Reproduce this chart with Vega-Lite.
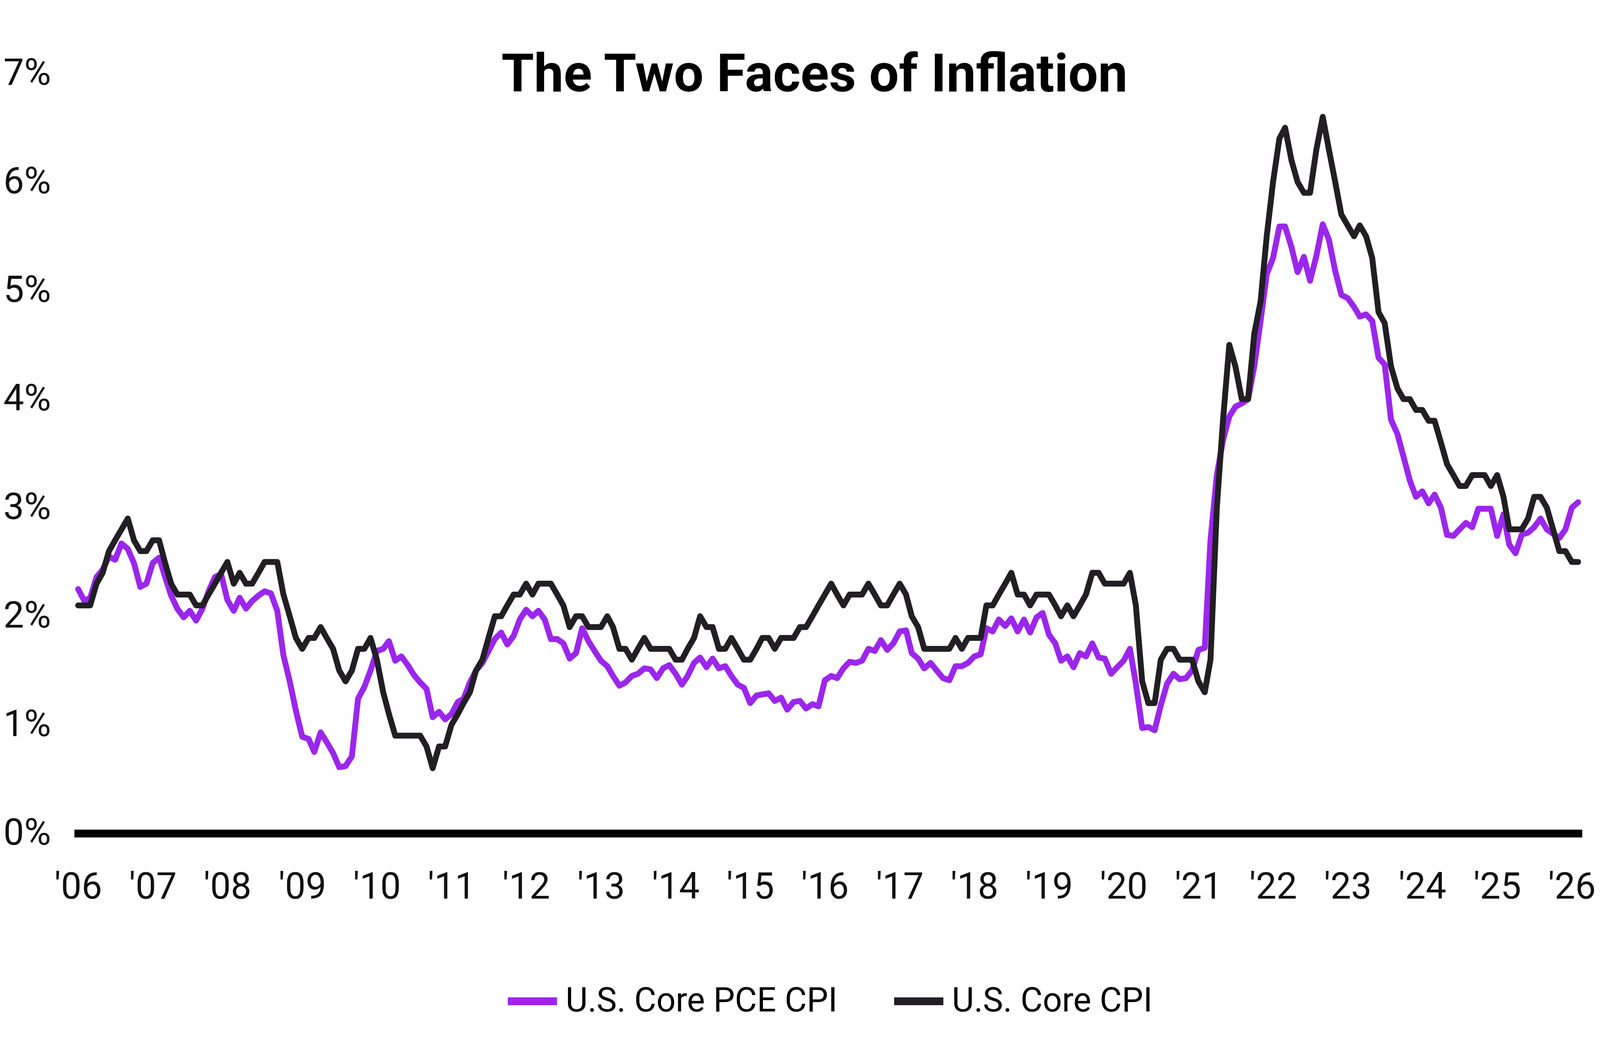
{
"$schema": "https://vega.github.io/schema/vega-lite/v6.json",
"width": 3840, "height": 1946,
"autosize": {"type": "none"},
"padding": {"left": 200, "top": 188, "right": 136, "bottom": 514},
"background": "white",
"config": {"view": {"stroke": null}, "font": "Roboto", "legend": {"layout": {"bottom": {"anchor": "middle"}}}},
"title": {"text": "The Two Faces of Inflation", "font": "Roboto", "fontSize": 135, "fontWeight": "bold", "color": "#000000", "anchor": "middle", "frame": "group", "orient": "top", "baseline": "alphabetic", "offset": -228, "dx": -35},
"data": {"values": [
{"date":"2006-01","pce":2.25,"cpi":2.1},{"date":"2006-02","pce":2.14,"cpi":2.1},{"date":"2006-03","pce":2.17,"cpi":2.1},{"date":"2006-04","pce":2.36,"cpi":2.3},{"date":"2006-05","pce":2.43,"cpi":2.4},{"date":"2006-06","pce":2.55,"cpi":2.6},{"date":"2006-07","pce":2.52,"cpi":2.7},{"date":"2006-08","pce":2.67,"cpi":2.8},{"date":"2006-09","pce":2.62,"cpi":2.9},{"date":"2006-10","pce":2.49,"cpi":2.7},{"date":"2006-11","pce":2.27,"cpi":2.6},{"date":"2006-12","pce":2.30,"cpi":2.6},
{"date":"2007-01","pce":2.49,"cpi":2.7},{"date":"2007-02","pce":2.54,"cpi":2.7},{"date":"2007-03","pce":2.37,"cpi":2.5},{"date":"2007-04","pce":2.19,"cpi":2.3},{"date":"2007-05","pce":2.07,"cpi":2.2},{"date":"2007-06","pce":1.99,"cpi":2.2},{"date":"2007-07","pce":2.05,"cpi":2.2},{"date":"2007-08","pce":1.96,"cpi":2.1},{"date":"2007-09","pce":2.07,"cpi":2.1},{"date":"2007-10","pce":2.23,"cpi":2.2},{"date":"2007-11","pce":2.36,"cpi":2.3},{"date":"2007-12","pce":2.39,"cpi":2.4},
{"date":"2008-01","pce":2.15,"cpi":2.5},{"date":"2008-02","pce":2.05,"cpi":2.3},{"date":"2008-03","pce":2.17,"cpi":2.4},{"date":"2008-04","pce":2.07,"cpi":2.3},{"date":"2008-05","pce":2.14,"cpi":2.3},{"date":"2008-06","pce":2.19,"cpi":2.4},{"date":"2008-07","pce":2.23,"cpi":2.5},{"date":"2008-08","pce":2.21,"cpi":2.5},{"date":"2008-09","pce":2.05,"cpi":2.5},{"date":"2008-10","pce":1.64,"cpi":2.2},{"date":"2008-11","pce":1.40,"cpi":2.0},{"date":"2008-12","pce":1.13,"cpi":1.8},
{"date":"2009-01","pce":0.89,"cpi":1.7},{"date":"2009-02","pce":0.87,"cpi":1.8},{"date":"2009-03","pce":0.75,"cpi":1.8},{"date":"2009-04","pce":0.93,"cpi":1.9},{"date":"2009-05","pce":0.84,"cpi":1.8},{"date":"2009-06","pce":0.74,"cpi":1.7},{"date":"2009-07","pce":0.61,"cpi":1.5},{"date":"2009-08","pce":0.62,"cpi":1.4},{"date":"2009-09","pce":0.71,"cpi":1.5},{"date":"2009-10","pce":1.24,"cpi":1.7},{"date":"2009-11","pce":1.35,"cpi":1.7},{"date":"2009-12","pce":1.50,"cpi":1.8},
{"date":"2010-01","pce":1.68,"cpi":1.6},{"date":"2010-02","pce":1.70,"cpi":1.3},{"date":"2010-03","pce":1.77,"cpi":1.1},{"date":"2010-04","pce":1.59,"cpi":0.9},{"date":"2010-05","pce":1.63,"cpi":0.9},{"date":"2010-06","pce":1.55,"cpi":0.9},{"date":"2010-07","pce":1.46,"cpi":0.9},{"date":"2010-08","pce":1.39,"cpi":0.9},{"date":"2010-09","pce":1.33,"cpi":0.8},{"date":"2010-10","pce":1.07,"cpi":0.6},{"date":"2010-11","pce":1.12,"cpi":0.8},{"date":"2010-12","pce":1.05,"cpi":0.8},
{"date":"2011-01","pce":1.10,"cpi":1.0},{"date":"2011-02","pce":1.21,"cpi":1.1},{"date":"2011-03","pce":1.24,"cpi":1.2},{"date":"2011-04","pce":1.39,"cpi":1.3},{"date":"2011-05","pce":1.50,"cpi":1.5},{"date":"2011-06","pce":1.57,"cpi":1.6},{"date":"2011-07","pce":1.68,"cpi":1.8},{"date":"2011-08","pce":1.79,"cpi":2.0},{"date":"2011-09","pce":1.85,"cpi":2.0},{"date":"2011-10","pce":1.74,"cpi":2.1},{"date":"2011-11","pce":1.82,"cpi":2.2},{"date":"2011-12","pce":1.97,"cpi":2.2},
{"date":"2012-01","pce":2.06,"cpi":2.3},{"date":"2012-02","pce":2.00,"cpi":2.2},{"date":"2012-03","pce":2.05,"cpi":2.3},{"date":"2012-04","pce":1.97,"cpi":2.3},{"date":"2012-05","pce":1.79,"cpi":2.3},{"date":"2012-06","pce":1.79,"cpi":2.2},{"date":"2012-07","pce":1.75,"cpi":2.1},{"date":"2012-08","pce":1.61,"cpi":1.9},{"date":"2012-09","pce":1.66,"cpi":2.0},{"date":"2012-10","pce":1.89,"cpi":2.0},{"date":"2012-11","pce":1.77,"cpi":1.9},{"date":"2012-12","pce":1.68,"cpi":1.9},
{"date":"2013-01","pce":1.59,"cpi":1.9},{"date":"2013-02","pce":1.54,"cpi":2.0},{"date":"2013-03","pce":1.45,"cpi":1.9},{"date":"2013-04","pce":1.36,"cpi":1.7},{"date":"2013-05","pce":1.39,"cpi":1.7},{"date":"2013-06","pce":1.45,"cpi":1.6},{"date":"2013-07","pce":1.47,"cpi":1.7},{"date":"2013-08","pce":1.52,"cpi":1.8},{"date":"2013-09","pce":1.51,"cpi":1.7},{"date":"2013-10","pce":1.43,"cpi":1.7},{"date":"2013-11","pce":1.52,"cpi":1.7},{"date":"2013-12","pce":1.55,"cpi":1.7},
{"date":"2014-01","pce":1.47,"cpi":1.6},{"date":"2014-02","pce":1.37,"cpi":1.6},{"date":"2014-03","pce":1.45,"cpi":1.7},{"date":"2014-04","pce":1.57,"cpi":1.8},{"date":"2014-05","pce":1.62,"cpi":2.0},{"date":"2014-06","pce":1.53,"cpi":1.9},{"date":"2014-07","pce":1.61,"cpi":1.9},{"date":"2014-08","pce":1.52,"cpi":1.7},{"date":"2014-09","pce":1.54,"cpi":1.7},{"date":"2014-10","pce":1.45,"cpi":1.8},{"date":"2014-11","pce":1.37,"cpi":1.7},{"date":"2014-12","pce":1.34,"cpi":1.6},
{"date":"2015-01","pce":1.20,"cpi":1.6},{"date":"2015-02","pce":1.27,"cpi":1.7},{"date":"2015-03","pce":1.28,"cpi":1.8},{"date":"2015-04","pce":1.29,"cpi":1.8},{"date":"2015-05","pce":1.22,"cpi":1.7},{"date":"2015-06","pce":1.25,"cpi":1.8},{"date":"2015-07","pce":1.14,"cpi":1.8},{"date":"2015-08","pce":1.21,"cpi":1.8},{"date":"2015-09","pce":1.22,"cpi":1.9},{"date":"2015-10","pce":1.15,"cpi":1.9},{"date":"2015-11","pce":1.19,"cpi":2.0},{"date":"2015-12","pce":1.17,"cpi":2.1},
{"date":"2016-01","pce":1.41,"cpi":2.2},{"date":"2016-02","pce":1.45,"cpi":2.3},{"date":"2016-03","pce":1.43,"cpi":2.2},{"date":"2016-04","pce":1.52,"cpi":2.1},{"date":"2016-05","pce":1.58,"cpi":2.2},{"date":"2016-06","pce":1.57,"cpi":2.2},{"date":"2016-07","pce":1.59,"cpi":2.2},{"date":"2016-08","pce":1.70,"cpi":2.3},{"date":"2016-09","pce":1.68,"cpi":2.2},{"date":"2016-10","pce":1.78,"cpi":2.1},{"date":"2016-11","pce":1.69,"cpi":2.1},{"date":"2016-12","pce":1.75,"cpi":2.2},
{"date":"2017-01","pce":1.86,"cpi":2.3},{"date":"2017-02","pce":1.87,"cpi":2.2},{"date":"2017-03","pce":1.66,"cpi":2.0},{"date":"2017-04","pce":1.61,"cpi":1.9},{"date":"2017-05","pce":1.52,"cpi":1.7},{"date":"2017-06","pce":1.57,"cpi":1.7},{"date":"2017-07","pce":1.50,"cpi":1.7},{"date":"2017-08","pce":1.43,"cpi":1.7},{"date":"2017-09","pce":1.41,"cpi":1.7},{"date":"2017-10","pce":1.54,"cpi":1.8},{"date":"2017-11","pce":1.54,"cpi":1.7},{"date":"2017-12","pce":1.57,"cpi":1.8},
{"date":"2018-01","pce":1.63,"cpi":1.8},{"date":"2018-02","pce":1.65,"cpi":1.8},{"date":"2018-03","pce":1.89,"cpi":2.1},{"date":"2018-04","pce":1.86,"cpi":2.1},{"date":"2018-05","pce":1.97,"cpi":2.2},{"date":"2018-06","pce":1.91,"cpi":2.3},{"date":"2018-07","pce":1.98,"cpi":2.4},{"date":"2018-08","pce":1.86,"cpi":2.2},{"date":"2018-09","pce":1.97,"cpi":2.2},{"date":"2018-10","pce":1.85,"cpi":2.1},{"date":"2018-11","pce":1.99,"cpi":2.2},{"date":"2018-12","pce":2.03,"cpi":2.2},
{"date":"2019-01","pce":1.83,"cpi":2.2},{"date":"2019-02","pce":1.75,"cpi":2.1},{"date":"2019-03","pce":1.59,"cpi":2.0},{"date":"2019-04","pce":1.63,"cpi":2.1},{"date":"2019-05","pce":1.53,"cpi":2.0},{"date":"2019-06","pce":1.66,"cpi":2.1},{"date":"2019-07","pce":1.63,"cpi":2.2},{"date":"2019-08","pce":1.75,"cpi":2.4},{"date":"2019-09","pce":1.62,"cpi":2.4},{"date":"2019-10","pce":1.61,"cpi":2.3},{"date":"2019-11","pce":1.47,"cpi":2.3},{"date":"2019-12","pce":1.53,"cpi":2.3},
{"date":"2020-01","pce":1.59,"cpi":2.3},{"date":"2020-02","pce":1.70,"cpi":2.4},{"date":"2020-03","pce":1.38,"cpi":2.1},{"date":"2020-04","pce":0.97,"cpi":1.4},{"date":"2020-05","pce":0.98,"cpi":1.2},{"date":"2020-06","pce":0.95,"cpi":1.2},{"date":"2020-07","pce":1.18,"cpi":1.6},{"date":"2020-08","pce":1.38,"cpi":1.7},{"date":"2020-09","pce":1.47,"cpi":1.7},{"date":"2020-10","pce":1.42,"cpi":1.6},{"date":"2020-11","pce":1.43,"cpi":1.6},{"date":"2020-12","pce":1.50,"cpi":1.6},
{"date":"2021-01","pce":1.69,"cpi":1.4},{"date":"2021-02","pce":1.71,"cpi":1.3},{"date":"2021-03","pce":2.70,"cpi":1.6},{"date":"2021-04","pce":3.30,"cpi":3.0},{"date":"2021-05","pce":3.62,"cpi":3.8},{"date":"2021-06","pce":3.84,"cpi":4.5},{"date":"2021-07","pce":3.93,"cpi":4.3},{"date":"2021-08","pce":3.96,"cpi":4.0},{"date":"2021-09","pce":4.00,"cpi":4.0},{"date":"2021-10","pce":4.30,"cpi":4.6},{"date":"2021-11","pce":4.72,"cpi":4.9},{"date":"2021-12","pce":5.15,"cpi":5.5},
{"date":"2022-01","pce":5.30,"cpi":6.0},{"date":"2022-02","pce":5.59,"cpi":6.4},{"date":"2022-03","pce":5.59,"cpi":6.5},{"date":"2022-04","pce":5.40,"cpi":6.2},{"date":"2022-05","pce":5.17,"cpi":6.0},{"date":"2022-06","pce":5.31,"cpi":5.9},{"date":"2022-07","pce":5.09,"cpi":5.9},{"date":"2022-08","pce":5.32,"cpi":6.3},{"date":"2022-09","pce":5.61,"cpi":6.6},{"date":"2022-10","pce":5.47,"cpi":6.3},{"date":"2022-11","pce":5.18,"cpi":6.0},{"date":"2022-12","pce":4.96,"cpi":5.7},
{"date":"2023-01","pce":4.93,"cpi":5.6},{"date":"2023-02","pce":4.85,"cpi":5.5},{"date":"2023-03","pce":4.76,"cpi":5.6},{"date":"2023-04","pce":4.78,"cpi":5.5},{"date":"2023-05","pce":4.72,"cpi":5.3},{"date":"2023-06","pce":4.38,"cpi":4.8},{"date":"2023-07","pce":4.32,"cpi":4.7},{"date":"2023-08","pce":3.81,"cpi":4.3},{"date":"2023-09","pce":3.68,"cpi":4.1},{"date":"2023-10","pce":3.47,"cpi":4.0},{"date":"2023-11","pce":3.25,"cpi":4.0},{"date":"2023-12","pce":3.10,"cpi":3.9},
{"date":"2024-01","pce":3.15,"cpi":3.9},{"date":"2024-02","pce":3.04,"cpi":3.8},{"date":"2024-03","pce":3.12,"cpi":3.8},{"date":"2024-04","pce":3.00,"cpi":3.6},{"date":"2024-05","pce":2.75,"cpi":3.4},{"date":"2024-06","pce":2.74,"cpi":3.3},{"date":"2024-07","pce":2.80,"cpi":3.2},{"date":"2024-08","pce":2.86,"cpi":3.2},{"date":"2024-09","pce":2.82,"cpi":3.3},{"date":"2024-10","pce":2.99,"cpi":3.3},{"date":"2024-11","pce":2.99,"cpi":3.3},{"date":"2024-12","pce":2.99,"cpi":3.2},
{"date":"2025-01","pce":2.74,"cpi":3.3},{"date":"2025-02","pce":2.94,"cpi":3.1},{"date":"2025-03","pce":2.66,"cpi":2.8},{"date":"2025-04","pce":2.58,"cpi":2.8},{"date":"2025-05","pce":2.75,"cpi":2.8},{"date":"2025-06","pce":2.77,"cpi":2.9},{"date":"2025-07","pce":2.82,"cpi":3.1},{"date":"2025-08","pce":2.90,"cpi":3.1},{"date":"2025-09","pce":2.80,"cpi":3.0},{"date":"2025-10","pce":2.76,"cpi":null},{"date":"2025-11","pce":2.72,"cpi":2.6},{"date":"2025-12","pce":2.80,"cpi":2.6},
{"date":"2026-01","pce":3.00,"cpi":2.5},{"date":"2026-02","pce":3.05,"cpi":2.5}
]},
"transform": [
  {"fold": ["pce", "cpi"], "as": ["series", "value"]},
  {"filter": "isValid(datum.value)"}
],
"encoding": {
  "x": {"field": "date", "type": "temporal",
    "scale": {"type": "utc", "domain": [{"year": 2006, "month": 1, "date": 1, "utc": true}, {"year": 2026, "month": 2, "date": 1, "utc": true}]},
    "axis": {"title": null, "tickCount": {"interval": "year", "step": 1}, "labelExpr": "utcFormat(datum.value, \"'%y\")", "labelFont": "Roboto", "labelFontSize": 94, "labelColor": "#111111", "labelPadding": 92, "labelFlush": false, "labelOverlap": false, "labelBound": false, "ticks": false, "grid": false, "domain": true, "domainColor": "#000000", "domainWidth": 20, "domainCap": "square"}},
  "y": {"field": "value", "type": "quantitative",
    "scale": {"domain": [0, 7], "nice": false, "zero": true},
    "axis": {"title": null, "values": [0, 1, 2, 3, 4, 5, 6, 7], "labelExpr": "datum.value + '%'", "labelFont": "Roboto", "labelFontSize": 94, "labelColor": "#111111", "labelPadding": 70, "ticks": false, "grid": false, "domain": false}},
  "color": {"field": "series", "type": "nominal",
    "scale": {"domain": ["pce", "cpi"], "range": ["#9B26EC", "#211F24"]},
    "legend": {"title": null, "orient": "bottom", "direction": "horizontal", "symbolType": "stroke", "symbolStrokeWidth": 20, "symbolSize": 15876, "labelFont": "Roboto", "labelFontSize": 87, "labelColor": "#000000", "labelOffset": 12, "columnPadding": 105, "offset": 172, "labelLimit": 0, "labelExpr": "datum.value == 'pce' ? 'U.S. Core PCE CPI' : 'U.S. Core CPI'"}}
},
"layer": [
  {"transform": [{"filter": "datum.series == 'pce'"}], "mark": {"type": "line", "strokeWidth": 15, "strokeJoin": "round", "strokeCap": "round"}, "encoding": {}},
  {"transform": [{"filter": "datum.series == 'cpi'"}], "mark": {"type": "line", "strokeWidth": 15, "strokeJoin": "round", "strokeCap": "round"}, "encoding": {}}
]
}
